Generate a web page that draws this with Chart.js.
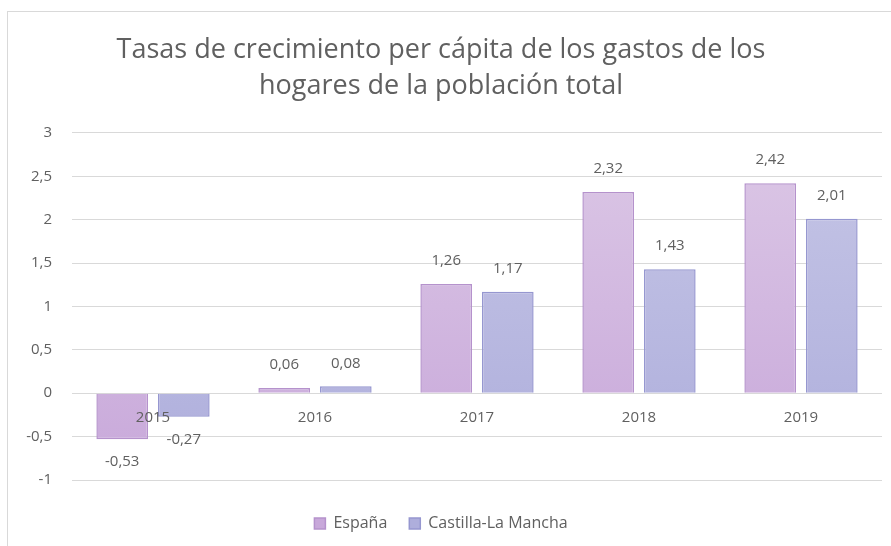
<!DOCTYPE html>
<html><head><meta charset="utf-8">
<script src="https://cdn.jsdelivr.net/npm/chart.js@4/dist/chart.umd.min.js"></script>
<style>
html,body{margin:0;padding:0;background:#fff;width:891px;height:546px;overflow:hidden;}
#frame{position:absolute;left:7px;top:11px;width:900px;height:560px;border:1px solid #d9d9d9;box-sizing:border-box;}
#wrap{position:absolute;left:0;top:0;width:891px;height:546px;}
</style></head>
<body>
<div id="frame"></div>
<div id="wrap"><canvas id="c" width="891" height="546"></canvas></div>
<script>
const categories = ['2015','2016','2017','2018','2019'];
const espana = [-0.53, 0.06, 1.26, 2.32, 2.42];
const castilla = [-0.27, 0.08, 1.17, 1.43, 2.01];
const seriesNames = ['España','Castilla-La Mancha'];
const titleLines = ['Tasas de crecimiento per cápita de los gastos de los','hogares de la población total'];

const FONT = '"Open Sans", Lato, sans-serif';
const GRAY = '#606060';

function fmt(v){ return String(v).replace('.', ','); }

function grad(chart, top, bottom){
  const a = chart.chartArea;
  if (!a) return bottom;
  const g = chart.ctx.createLinearGradient(0, a.top, 0, a.bottom);
  g.addColorStop(0, top);
  g.addColorStop(1, bottom);
  return g;
}

const labelPlugin = {
  id: 'valueLabels',
  afterDatasetsDraw(chart){
    const ctx = chart.ctx;
    ctx.save();
    ctx.font = '15px ' + FONT;
    ctx.fillStyle = GRAY;
    ctx.textAlign = 'center';
    ctx.textBaseline = 'middle';
    chart.data.datasets.forEach((ds, i) => {
      const meta = chart.getDatasetMeta(i);
      meta.data.forEach((el, j) => {
        const v = ds.data[j];
        const y = v >= 0 ? el.y - 23 : el.y + 23;
        ctx.fillText(fmt(v), el.x, y);
      });
    });
    ctx.restore();
  }
};

new Chart(document.getElementById('c'), {
  type: 'bar',
  data: {
    labels: categories,
    datasets: [
      { label: seriesNames[0], data: espana,
        backgroundColor: (c) => grad(c.chart, '#dcc8e6', '#c8a8da'),
        borderColor: '#b592cc', borderWidth: 1.5 },
      { label: seriesNames[1], data: castilla,
        backgroundColor: (c) => grad(c.chart, '#c6c6e6', '#aeaedc'),
        borderColor: '#9697d0', borderWidth: 1.5 }
    ]
  },
  options: {
    responsive: false,
    animation: false,
    devicePixelRatio: 1,
    layout: { padding: { left: 0, right: 9, top: 14, bottom: 4.5 } },
    datasets: { bar: { categoryPercentage: 0.76, barPercentage: 0.84 } },
    plugins: {
      title: {
        display: true,
        text: titleLines,
        color: GRAY,
        font: { family: FONT, size: 27, weight: 'normal', lineHeight: 1.35 },
        padding: { top: 18, bottom: 28 }
      },
      legend: {
        position: 'bottom',
        labels: {
          color: GRAY,
          font: { family: FONT, size: 16 },
          boxWidth: 11, boxHeight: 11,
          padding: 22
        }
      },
      tooltip: { enabled: false }
    },
    scales: {
      x: {
        position: { y: 0 },
        grid: { display: false, drawTicks: false },
        border: { display: false },
        ticks: { z: 1, color: GRAY, font: { family: FONT, size: 15 }, padding: 16 }
      },
      xb: {
        type: 'category',
        position: 'bottom',
        grid: { display: false, drawTicks: false },
        border: { display: false },
        ticks: { display: false },
        afterFit(s){ s.height = 13.5; }
      },
      y: {
        min: -1, max: 3,
        ticks: {
          stepSize: 0.5, color: GRAY, font: { family: FONT, size: 15 }, padding: 20,
          callback: (v) => fmt(v)
        },
        grid: { color: '#d9d9d9', drawTicks: false, lineWidth: 1 },
        border: { display: false },
        afterFit(s){ s.width = 72; }
      }
    }
  },
  plugins: [labelPlugin]
});
</script>
</body></html>
